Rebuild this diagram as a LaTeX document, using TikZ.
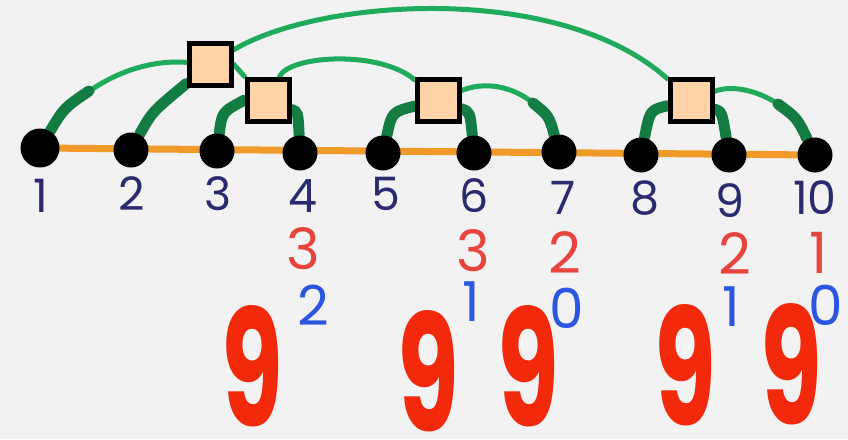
\documentclass[tikz,border=0pt]{standalone}
\usepackage{fontspec}
\setmainfont{Poppins}
\definecolor{paper}{HTML}{F2F2F2}
\definecolor{peach}{HTML}{FFD3A8}
\definecolor{wire}{HTML}{20AA5C}
\definecolor{wiredark}{HTML}{137C43}
\definecolor{track}{HTML}{F09A2A}
\definecolor{navy}{HTML}{2A2A6E}
\definecolor{redrow}{HTML}{E8443E}
\definecolor{bluerow}{HTML}{2B56E2}
\definecolor{bigred}{HTML}{F3290B}
\pgfdeclarelayer{paperlayer}
\pgfdeclarelayer{wires}
\pgfsetlayers{paperlayer,wires,main}
\begin{document}
\begin{tikzpicture}[x=1pt,y=-1pt,
  dot/.style={circle,fill=black,inner sep=0pt,minimum size=35pt},
  gate/.style={rectangle,draw=black,line width=5pt,fill=peach,minimum size=42pt,inner sep=0pt},
  wirethin/.style={draw=wire,line width=5pt,line cap=round},
  wirethick/.style={draw=wiredark,line width=11pt,line cap=round},
  tracksty/.style={draw=track,line width=7pt},
  lab/.style={text=navy,inner sep=0pt,font=\fontsize{46}{46}\selectfont},
  redlab/.style={text=redrow,inner sep=0pt,font=\fontsize{57}{57}\selectfont},
  bluelab/.style={text=bluerow,inner sep=0pt,font=\fontsize{55}{55}\selectfont},
  nine/.style={text=bigred,inner sep=0pt,xscale=0.62,transform shape,font=\fontsize{162}{162}\selectfont\bfseries}]
\begin{pgfonlayer}{paperlayer}
\fill[paper] (0,0) rectangle (848,439);
\end{pgfonlayer}
\useasboundingbox (0,0) rectangle (848,439);
% dots
\node[dot,minimum size=39pt] (n1) at (40,148) {};
\node[dot] (n2) at (131,150) {};
\node[dot] (n3) at (217,151) {};
\node[dot] (n4) at (300,153) {};
\node[dot] (n5) at (383,153) {};
\node[dot] (n6) at (474,153) {};
\node[dot] (n7) at (559,152) {};
\node[dot] (n8) at (641,155) {};
\node[dot] (n9) at (729,155) {};
\node[dot] (n10) at (815,155) {};
% gates
\node[gate] (s1) at (210,64) {};
\node[gate] (s2) at (268,100) {};
\node[gate] (s3) at (438,100) {};
\node[gate] (s4) at (691,100) {};
% free ends of thick strokes
\coordinate (k1) at (89,91);
\coordinate (k7) at (533,103);
\coordinate (k10) at (778,104);
\begin{pgfonlayer}{wires}
\draw[tracksty] (n1.center) -- (n10.center);
\draw[wirethin] (n1) .. controls (70,98) and (125,58) .. (s1);
\draw[wirethick] (n1) .. controls (64,108) .. (k1);
\draw[wirethick] (n2) .. controls (152,112) .. (s1);
\draw[wirethin] (s1) .. controls (320,-2) and (560,-18) .. (s4);
\draw[wirethin] (s1.east) -- (s2.north west);
\draw[wirethick] (n3) .. controls (222,112) .. (s2.west);
\draw[wirethin] (s2) .. controls (290,55) and (380,50) .. (s3);
\draw[wirethick] (s2) .. controls (298,112) .. (n4);
\draw[wirethick] (n5) .. controls (392,112) .. (s3);
\draw[wirethick] (s3) .. controls (470,112) .. (n6);
\draw[wirethin] (s3) .. controls (500,75) and (545,100) .. (n7);
\draw[wirethick] (n7) .. controls (549,116) .. (k7);
\draw[wirethick] (n8) .. controls (650,110) .. (s4);
\draw[wirethick] (s4) .. controls (722,112) .. (n9);
\draw[wirethin] (s4) .. controls (745,80) and (795,105) .. (n10);
\draw[wirethick] (n10) .. controls (797,118) .. (k10);
\end{pgfonlayer}
% index labels
\node[lab] (l1) at (41,196) {1};
\node[lab] (l2) at (132,194) {2};
\node[lab] (l3) at (218,194) {3};
\node[lab] (l4) at (303,196) {4};
\node[lab] (l5) at (386,194) {5};
\node[lab] (l6) at (474,196) {6};
\node[lab] (l7) at (563,198) {7};
\node[lab] (l8) at (645,198) {8};
\node[lab] (l9) at (730,201) {9};
\node[lab] (l10) at (815,198) {10};
% red row
\node[redlab] (r4) at (303,249) {3};
\node[redlab] (r6) at (473,251) {3};
\node[redlab] (r7) at (565,253) {2};
\node[redlab] (r9) at (735,254) {2};
\node[redlab] (r10) at (819,253) {1};
% blue row
\node[bluelab] (b4) at (313,305) {2};
\node[bluelab] (b6) at (471,302) {1};
\node[bluelab] (b7) at (567,308) {0};
\node[bluelab] (b9) at (731,307) {1};
\node[bluelab] (b10) at (826,305) {0};
% big nines
\node[nine] (g1) at (252,366) {9};
\node[nine] (g2) at (428,371) {9};
\node[nine] (g3) at (528,366) {9};
\node[nine] (g4) at (685,365) {9};
\node[nine] (g5) at (791,364) {9};
\end{tikzpicture}
\end{document}
